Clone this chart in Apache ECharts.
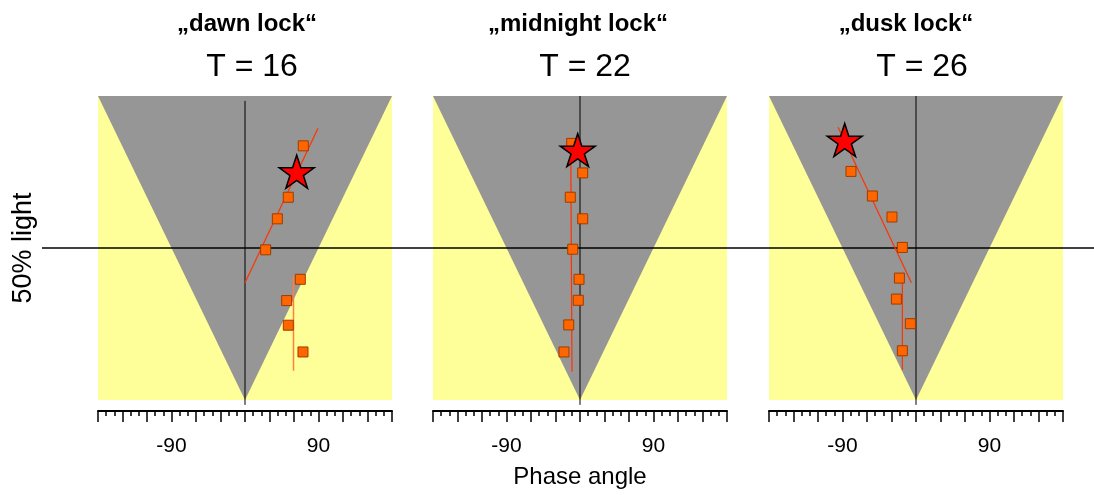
<!DOCTYPE html>
<html>
<head>
<meta charset="utf-8">
<script src="https://cdn.jsdelivr.net/npm/echarts@6/dist/echarts.min.js"></script>
<style>
  html, body {margin: 0; padding: 0; background: #fff;}
  #chart {width: 1094px; height: 495px;}
</style>
</head>
<body>
<div id="chart"></div>
<script>
// panel titles
let lockNames = ['„dawn lock“', '„midnight lock“', '„dusk lock“'];
let periods = ['T = 16', 'T = 22', 'T = 26'];
let xTickLabels = [-90, 90];

// gray "dark" wedge (phase angle, % light)
let wedgeX = [-180, 0, 180];
let wedgeY = [100, 0, 100];

// dawn lock, T = 16
let dawnX = [71.4, 53.0, 39.6, 25.3, 67.7, 51.0, 53.0, 71.0];
let dawnY = [83.6, 66.7, 59.6, 49.4, 39.7, 32.7, 24.6, 15.8];
let dawnStar = [63.3, 75.1];
let dawnFitA = [[89.4, 89.4], [0, 38.6]];
let dawnFitB = [[59.4, 40.6], [59.4, 9.6]];

// midnight lock, T = 22
let midX = [-10.2, 3.3, -11.9, 3.3, -8.9, -1.2, -2.1, -13.8, -19.6];
let midY = [84.4, 74.7, 66.7, 59.6, 49.6, 39.7, 32.8, 24.7, 15.8];
let midStar = [-2.8, 82.2];
let midFitA = [[-11.4, 85.5], [-9.8, 9.3]];

// dusk lock, T = 26
let duskX = [-79.6, -53.4, -29.4, -16.7, -20.3, -24.0, -6.9, -16.7];
let duskY = [75.2, 67.1, 60.2, 50.2, 40.1, 33.2, 25.1, 16.2];
let duskStar = [-87.3, 85.5];
let duskFitA = [[-95.4, 89.7], [-5.6, 38.6]];
let duskFitB = [[-16.7, 38.6], [-16.7, 9.9]];

let zeroTop = [98.4, 100, 100];

let font = 'Liberation Sans, Arial, Helvetica, sans-serif';
let starPath = 'path://M50,0L61.2,34.5L97.6,34.5L68.2,55.9L79.4,90.5L50,69.1L20.6,90.5L31.8,55.9L2.4,34.5L38.8,34.5Z';

let panelLeft = [98, 433, 769];
let titleCenter = [247, 578, 906];
let periodCenter = [252, 585, 922];

let panels = [
  {x: dawnX, y: dawnY, star: dawnStar, fits: [[dawnFitA, '#ff3300', 1.2], [dawnFitB, '#ff8040', 1.5]]},
  {x: midX, y: midY, star: midStar, fits: [[midFitA, '#ff3300', 1.2]]},
  {x: duskX, y: duskY, star: duskStar, fits: [[duskFitA, '#ff3300', 1.2], [duskFitB, '#ff3300', 1.2]]}
];

let grids = [];
let xAxes = [];
let yAxes = [];
let series = [];
let titles = [];

// plotting panels (x axis hidden, drawn lower on its own grid)
panels.forEach(function (p, i) {
  grids.push({left: panelLeft[i], top: 96, width: 294, height: 304, show: true,
    backgroundColor: '#ffff99', borderWidth: 0});
  xAxes.push({gridIndex: i, type: 'value', min: -180, max: 180, show: false});
  yAxes.push({
    gridIndex: i, type: 'value', min: 0, max: 100,
    axisLine: {show: false}, axisTick: {show: false}, axisLabel: {show: false},
    splitLine: {show: false},
    name: i === 0 ? '50% light' : '',
    nameLocation: 'middle', nameRotate: 90, nameGap: 61,
    nameTextStyle: {color: '#000', fontSize: 27, fontFamily: font}
  });

  // gray wedge, filled up to the top of the axis
  series.push({
    type: 'line', xAxisIndex: i, yAxisIndex: i, silent: true, z: 1,
    symbol: 'none', lineStyle: {width: 0},
    areaStyle: {color: '#969696', opacity: 1, origin: 'end'},
    data: wedgeX.map(function (x, k) { return [x, wedgeY[k]]; })
  });
  // 0 phase line
  series.push({
    type: 'line', xAxisIndex: i, yAxisIndex: i, silent: true, z: 2, clip: false,
    symbol: 'none', lineStyle: {color: '#000', width: 1},
    data: [[0, zeroTop[i]], [0, -1.6]]
  });
  p.fits.forEach(function (f) {
    series.push({
      type: 'line', xAxisIndex: i, yAxisIndex: i, silent: true, z: 3,
      symbol: 'none', lineStyle: {color: f[1], width: f[2]},
      data: f[0]
    });
  });
  series.push({
    type: 'scatter', xAxisIndex: i, yAxisIndex: i, z: 4,
    symbol: 'rect', symbolSize: 10,
    itemStyle: {color: '#ff6600', borderColor: '#9c3c00', borderWidth: 1, opacity: 1},
    data: p.x.map(function (x, k) { return [x, p.y[k]]; })
  });
  series.push({
    type: 'scatter', xAxisIndex: i, yAxisIndex: i, z: 5,
    symbol: starPath, symbolSize: [35, 33],
    itemStyle: {color: '#ff0000', borderColor: '#000', borderWidth: 1.5, opacity: 1},
    data: [p.star]
  });

  titles.push({text: lockNames[i], left: titleCenter[i], top: 12, padding: 0, textAlign: 'center',
    textStyle: {color: '#000', fontSize: 24, fontWeight: 'bold', fontFamily: font}});
  titles.push({text: periods[i], left: periodCenter[i], top: 51, padding: 0, textAlign: 'center',
    textStyle: {color: '#000', fontSize: 32, fontWeight: 'normal', fontFamily: font}});
});

// full width overlay for the 50% light line
grids.push({left: 42, right: 0, top: 96, height: 304});
xAxes.push({gridIndex: 3, type: 'value', min: 0, max: 1, show: false});
yAxes.push({gridIndex: 3, type: 'value', min: 0, max: 100, show: false});
series.push({
  type: 'line', xAxisIndex: 3, yAxisIndex: 3, silent: true, z: 2,
  symbol: 'none', lineStyle: {color: '#000', width: 1.5},
  data: [[0, 50], [1, 50]]
});

// phase angle axes, set a little below the panels
panelLeft.forEach(function (left, i) {
  let g = 4 + i;
  grids.push({left: left, top: 96, width: 294, height: 315});
  yAxes.push({gridIndex: g, type: 'value', min: 0, max: 100, show: false});
  xAxes.push({
    gridIndex: g, type: 'value', min: -180, max: 180, interval: 30,
    axisLine: {lineStyle: {color: '#000', width: 2}},
    axisTick: {length: 11, lineStyle: {color: '#000', width: 1.5}},
    minorTick: {show: true, splitNumber: 3, length: 5, lineStyle: {color: '#000', width: 1.5}},
    splitLine: {show: false},
    axisLabel: {
      color: '#000', fontSize: 21, fontFamily: font, margin: 25, hideOverlap: false,
      formatter: function (v) { return xTickLabels.indexOf(v) >= 0 ? String(v) : ''; }
    },
    name: i === 1 ? 'Phase angle' : '',
    nameLocation: 'middle', nameGap: 54,
    nameTextStyle: {color: '#000', fontSize: 24, fontFamily: font}
  });
});

let chart = echarts.init(document.getElementById('chart'), null, {renderer: 'canvas'});
chart.setOption({
  animation: false,
  backgroundColor: '#fff',
  title: titles,
  grid: grids,
  xAxis: xAxes,
  yAxis: yAxes,
  series: series
});
</script>
</body>
</html>
